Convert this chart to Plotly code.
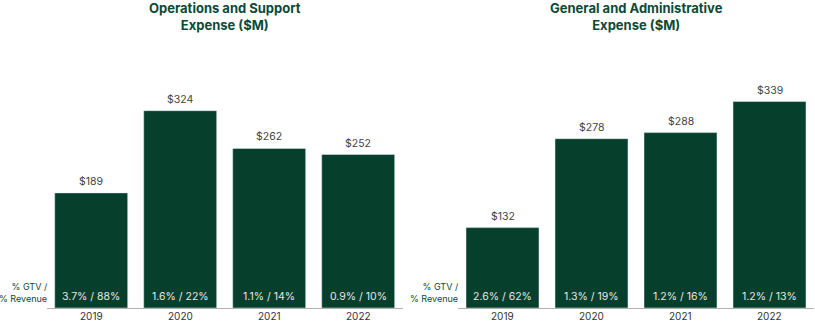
import plotly.graph_objects as go

years = ["2019", "2020", "2021", "2022"]
ops_values = [189, 324, 262, 252]
ops_ratios = ["3.7% / 88%", "1.6% / 22%", "1.1% / 14%", "0.9% / 10%"]
ga_values = [132, 278, 288, 339]
ga_ratios = ["2.6% / 62%", "1.3% / 19%", "1.2% / 16%", "1.2% / 13%"]
titles = ["Operations and Support<br>Expense ($M)", "General and Administrative<br>Expense ($M)"]
row_label = "% GTV /<br>% Revenue"

W, H = 815, 322
BAR = "#063f2c"
GREEN_TXT = "#0c4a35"
FONT = "Inter"

base_px = 308.0
top_px = 64.4
ydom = [(H - base_px) / H, (H - top_px) / H]
xdoms = [[46.7 / W, 402.7 / W], [458.0 / W, 814.0 / W]]

fig = go.Figure()
panels = [(ops_values, ops_ratios), (ga_values, ga_ratios)]
annotations = []
for i, (vals, ratios) in enumerate(panels):
    xa = "x" if i == 0 else "x2"
    ya = "y" if i == 0 else "y2"
    fig.add_trace(go.Bar(x=list(years), y=list(vals), marker_color=BAR, width=0.82,
                         xaxis=xa, yaxis=ya, showlegend=False, hoverinfo="skip"))
    for k, (v, r) in enumerate(zip(vals, ratios)):
        annotations.append(dict(x=k, y=v, xref=xa, yref=ya, text=f"${v}", showarrow=False,
                                yanchor="bottom", yshift=3,
                                font=dict(family=FONT, size=10.5, color="#444444")))
        annotations.append(dict(x=k, y=0, xref=xa, yref=ya, text=r, showarrow=False,
                                yanchor="middle", yshift=base_px - 296.7,
                                font=dict(family=FONT, size=10.5, color="#e6e6e6")))
        annotations.append(dict(x=k, y=0, xref=xa, yref=ya, text=years[k], showarrow=False,
                                yanchor="middle", yshift=-(316 - base_px),
                                font=dict(family=FONT, size=10, color="#333333")))
    d = xdoms[i]
    annotations.append(dict(x=(d[0] + d[1]) / 2, y=1, xref="paper", yref="paper", text=f"<b>{titles[i]}</b>",
                            showarrow=False, yanchor="top", xanchor="center", yshift=2,
                            font=dict(family=FONT, size=13, color=GREEN_TXT)))
    annotations.append(dict(x=d[0], y=ydom[0], xref="paper", yref="paper", text=row_label,
                            showarrow=False, xanchor="right", yanchor="bottom", align="right",
                            xshift=2, yshift=3, borderpad=0,
                            font=dict(family=FONT, size=9, color=GREEN_TXT)))

def xaxis_cfg(dom, anchor):
    return dict(domain=dom, anchor=anchor, type="category", categoryorder="array",
                categoryarray=years, range=[-0.5, 3.5], autorange=False,
                showline=True, linecolor="#b0b0b0", linewidth=1, showgrid=False, zeroline=False,
                ticks="", showticklabels=False, automargin=False)

fig.update_layout(
    width=W, height=H, margin=dict(l=0, r=0, t=0, b=0),
    paper_bgcolor="white", plot_bgcolor="white",
    annotations=annotations,
    xaxis=xaxis_cfg(xdoms[0], "y"),
    xaxis2=xaxis_cfg(xdoms[1], "y2"),
    yaxis=dict(domain=ydom, range=[0, 400], autorange=False, visible=False, showgrid=False, zeroline=False),
    yaxis2=dict(domain=ydom, range=[0, 400], autorange=False, visible=False, showgrid=False, zeroline=False),
)

fig.write_html("out.html")
